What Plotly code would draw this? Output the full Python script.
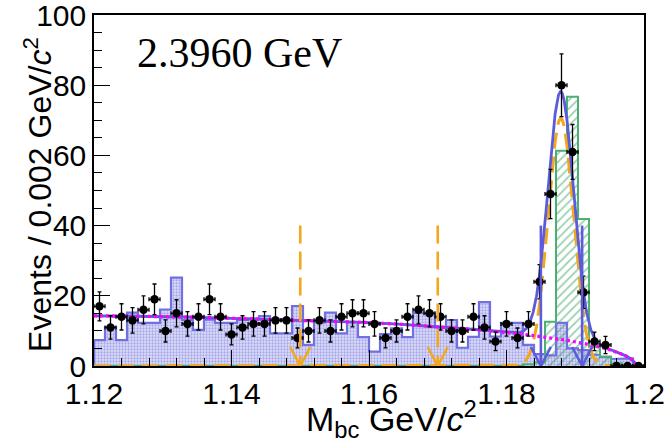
import numpy as np
import plotly.graph_objects as go

# ---- binning of the M_bc spectrum ----
m_lo, m_hi, n_bins = 1.12, 1.20, 50

# observed events per bin
data_counts = [17, 11, 14, 13, 16, 19, 10, 15, 12, 14,
               19, 14, 9, 11, 12, 12, 13, 13, 8, 10,
               13, 10, 14, 15, 15, 12, 8, 10, 14, 16,
               15, 14, 10, 10, 14, 11, 7, 12, 8, 12,
               24, 49, 80, 61, 21, 7, 6, 0, 0, 0]

# inclusive MC background (scaled)
bkg_mc = [7.4, 11.0, 7.4, 15.2, 12.3, 12.3, 16.1, 25.2, 13.1, 10.3,
          13.2, 12.3, 12.3, 13.1, 13.5, 14.2, 9.3, 9.3, 17.1, 6.0,
          12.4, 15.2, 9.3, 12.5, 8.2, 4.1, 9.1, 10.7, 8.2, 15.2,
          15.0, 11.0, 13.1, 5.2, 8.3, 18.2, 8.4, 12.3, 12.3, 6.0,
          3.4, 3.0, 12.3, 5.0, 4.5, 3.2, 2.6, 2.0, 2.2, 0.0]

# signal MC (scaled)
sig_mc = [0.0] * 39 + [0.5, 1.0, 12.6, 61.3, 76.7, 41.9, 5.5, 2.6, 0.8, 0.0, 0.0]

# fit result: ARGUS background + Gaussian signal
argus_m0, argus_c, argus_norm = 1.1988, -2.6, 49.8
sig_mean, sig_sigma, sig_peak = 1.1879, 0.00185, 70.6

# sideband and signal-region boundaries (arrows)
sideband_cuts = [1.15, 1.17]
signal_cuts = [1.185, 1.191]
arrow_top = 40

energy_label = "2.3960 GeV"
x_ticks = [1.12, 1.14, 1.16, 1.18, 1.2]
x_ticktext = ["1.12", "1.14", "1.16", "1.18", "1.2"]
y_ticks = [0, 20, 40, 60, 80, 100]

# ---- derived quantities ----
edges = np.linspace(m_lo, m_hi, n_bins + 1)
centers = 0.5 * (edges[:-1] + edges[1:])
bw = edges[1] - edges[0]
counts = np.array(data_counts, dtype=float)
errs = np.sqrt(counts)

def step_outline(vals):
    xs = np.concatenate([[edges[0]], np.repeat(edges, 2)[1:-1], [edges[-1]]])
    ys = np.concatenate([[0.0], np.repeat(vals, 2), [0.0]])
    return xs, ys

def argus(m):
    z = 1.0 - (m / argus_m0) ** 2
    out = np.zeros_like(m)
    ok = z > 0
    out[ok] = argus_norm * m[ok] * np.sqrt(z[ok]) * np.exp(argus_c * z[ok])
    return out

def gauss(m):
    return sig_peak * np.exp(-0.5 * ((m - sig_mean) / sig_sigma) ** 2)

mm = np.linspace(m_lo, m_hi, 1601)
f_bkg = argus(mm)
f_sig = gauss(mm)
f_tot = f_bkg + f_sig

BLUE = "#5b5bdc"
HBLUE = "#7070e2"
GREEN = "#34a05a"
ORANGE = "#f2a81d"
MAGENTA = "#ff00ff"

fig = go.Figure()

# background MC histogram
fig.add_trace(go.Bar(x=centers, y=bkg_mc, width=bw,
                     marker=dict(color="#dedef7", line=dict(width=0),
                                 pattern=dict(shape=".", fgcolor="#6e6ee0",
                                              bgcolor="#dedef7", size=3, solidity=0.45)),
                     hoverinfo="skip"))
xs, ys = step_outline(np.array(bkg_mc))
fig.add_trace(go.Scatter(x=xs, y=ys, mode="lines", line=dict(color=HBLUE, width=2.2)))

# signal MC histogram
fig.add_trace(go.Bar(x=centers, y=sig_mc, width=bw,
                     marker=dict(color="rgba(0,0,0,0)", line=dict(width=0),
                                 pattern=dict(shape="/", fgcolor=GREEN,
                                              bgcolor="rgba(0,0,0,0)", size=6, solidity=0.3)),
                     hoverinfo="skip"))
xs, ys = step_outline(np.array(sig_mc))
fig.add_trace(go.Scatter(x=xs, y=ys, mode="lines", line=dict(color="#4cb070", width=2)))

# fit components
fig.add_trace(go.Scatter(x=mm, y=f_sig, mode="lines",
                         line=dict(color=ORANGE, width=3, dash="16px,8px")))
fig.add_trace(go.Scatter(x=mm, y=f_tot, mode="lines",
                         line=dict(color=BLUE, width=2.8)))
fig.add_trace(go.Scatter(x=mm, y=f_bkg, mode="lines",
                         line=dict(color=MAGENTA, width=3.2, dash="3px,3px")))

# data
fig.add_trace(go.Scatter(x=centers, y=counts, mode="markers",
                         marker=dict(color="black", size=8.5),
                         error_y=dict(type="data", array=errs, color="black",
                                      thickness=1.3, width=2),
                         error_x=dict(type="constant", value=bw / 2, color="black",
                                      thickness=1.3, width=2)))

# arrows marking the sideband and signal windows
plot_w, plot_h = 550.0, 351.0
y_max = 100.0
head_dx = 10.0 * (m_hi - m_lo) / plot_w
head_dy = 19.0 * y_max / plot_h
shapes = []
for cuts, col, dash in [(sideband_cuts, ORANGE, "18px,8px"), (signal_cuts, BLUE, "solid")]:
    for xc in cuts:
        shapes.append(dict(type="line", xref="x", yref="y", x0=xc, x1=xc, y0=arrow_top, y1=0,
                           line=dict(color=col, width=2.6, dash=dash), layer="above"))
        shapes.append(dict(type="path", xref="x", yref="y",
                           path=f"M {xc - head_dx},{head_dy} L {xc},0 L {xc + head_dx},{head_dy}",
                           line=dict(color=col, width=2.6), layer="above"))

fig.update_layout(
    width=664, height=445,
    margin=dict(l=94, r=20, t=15, b=79, autoexpand=False),
    plot_bgcolor="white", paper_bgcolor="white",
    showlegend=False, barmode="overlay", bargap=0,
    font=dict(family="Liberation Sans, Arial, sans-serif", color="black"),
    shapes=shapes,
    annotations=[
        dict(text=energy_label, xref="paper", yref="paper", x=0.075, y=0.893,
             xanchor="left", yanchor="middle", showarrow=False,
             font=dict(family="Liberation Serif, Times New Roman, serif", size=42)),
        dict(text="Events / 0.002 GeV/<i>c</i><sup>2</sup>", xref="paper", yref="paper",
             x=-0.102, y=0.49, xanchor="center", yanchor="middle", textangle=-90,
             showarrow=False, font=dict(size=32)),
        dict(text="M<sub>bc</sub> GeV/<i>c</i><sup>2</sup>", xref="paper", yref="paper",
             x=0.54, y=-0.078, xanchor="center", yanchor="top",
             showarrow=False, font=dict(size=34)),
    ],
)

fig.update_xaxes(range=[m_lo, m_hi], tickvals=x_ticks, ticktext=x_ticktext,
                 ticks="inside", ticklen=16, tickwidth=1.3, tickcolor="black",
                 minor=dict(dtick=0.004, ticks="inside", ticklen=8, tickwidth=1.3, tickcolor="black"),
                 showline=True, linecolor="black", linewidth=1.5, mirror=True,
                 showgrid=False, zeroline=False, tickfont=dict(size=30),
                 ticklabeloverflow="allow", automargin=False)
fig.update_yaxes(range=[0, y_max], tickvals=y_ticks, ticktext=[str(v) for v in y_ticks],
                 ticks="inside", ticklen=16, tickwidth=1.3, tickcolor="black",
                 minor=dict(dtick=5, ticks="inside", ticklen=8, tickwidth=1.3, tickcolor="black"),
                 showline=True, linecolor="black", linewidth=1.5, mirror=True,
                 showgrid=False, zeroline=False, tickfont=dict(size=30),
                 ticklabeloverflow="allow", automargin=False)

fig.write_html("out.html")
